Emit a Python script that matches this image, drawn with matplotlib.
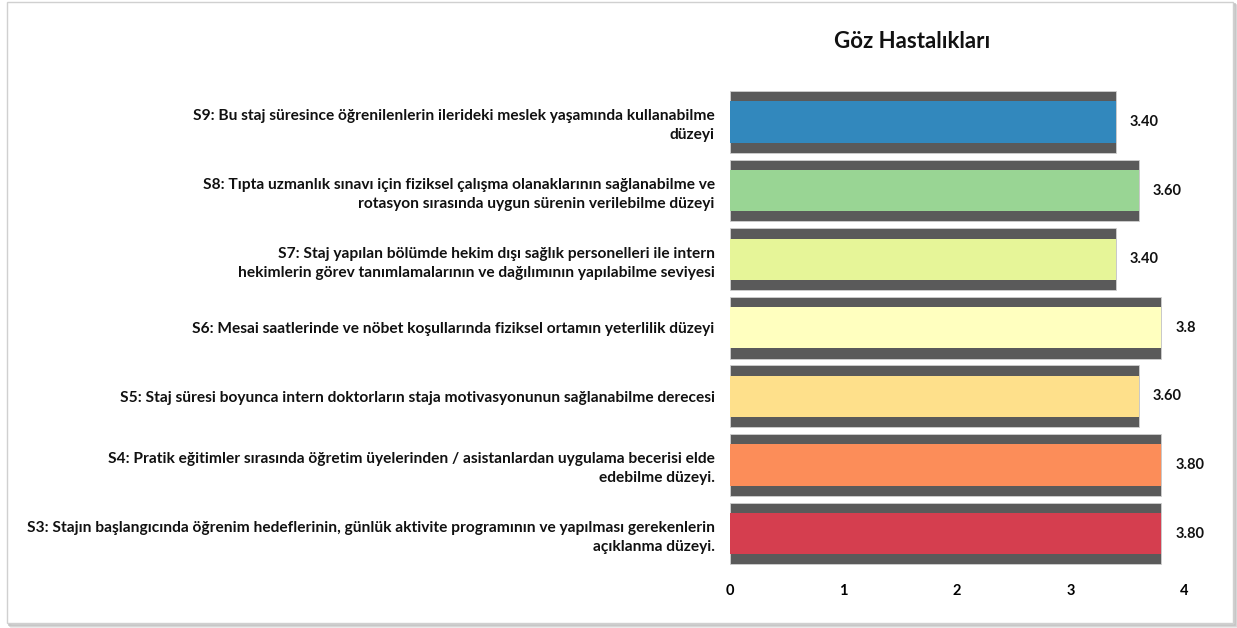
import matplotlib.pyplot as plt
import matplotlib.patches as mpatches
import numpy as np

plt.rcParams['font.family'] = ['Lato', 'DejaVu Sans']

# data, bottom to top
questions = [
    'S3: Stajın başlangıcında öğrenim hedeflerinin, günlük aktivite programının ve yapılması gerekenlerin\naçıklanma düzeyi.',
    'S4: Pratik eğitimler sırasında öğretim üyelerinden / asistanlardan uygulama becerisi elde\nedebilme düzeyi.',
    'S5: Staj süresi boyunca intern doktorların staja motivasyonunun sağlanabilme derecesi',
    'S6: Mesai saatlerinde ve nöbet koşullarında fiziksel ortamın yeterlilik düzeyi',
    'S7: Staj yapılan bölümde hekim dışı sağlık personelleri ile intern\nhekimlerin görev tanımlamalarının ve dağılımının yapılabilme seviyesi',
    'S8: Tıpta uzmanlık sınavı için fiziksel çalışma olanaklarının sağlanabilme ve\nrotasyon sırasında uygun sürenin verilebilme düzeyi',
    'S9: Bu staj süresince öğrenilenlerin ilerideki meslek yaşamında kullanabilme\ndüzeyi',
]
scores = [3.80, 3.80, 3.60, 3.80, 3.40, 3.60, 3.40]
score_labels = ['3.80', '3.80', '3.60', '3.8', '3.40', '3.60', '3.40']
bar_colors = ['#d53e4f', '#fc8d59', '#fee08b', '#ffffbf', '#e6f598', '#99d594', '#3288bd']
title = 'Göz Hastalıkları'

W, H = 1237, 628
fig = plt.figure(figsize=(W / 100, H / 100), dpi=100)
fig.patch.set_facecolor('white')

# frame with a soft shadow around the whole chart (kept behind the axes)
for off, col in [(4, '#e6e6e6'), (3, '#d4d4d4'), (2, '#c4c4c4')]:
    fig.patches.append(mpatches.Rectangle(((7 + off) / W, (H - 623 - off) / H), 1226 / W, 621 / H,
                                          transform=fig.transFigure, fill=False, edgecolor=col,
                                          linewidth=1.2, zorder=-3))
fig.patches.append(mpatches.Rectangle((7 / W, (H - 623) / H), 1226 / W, 621 / H,
                                      transform=fig.transFigure, fill=True, facecolor='white',
                                      edgecolor='#d0d0d0', linewidth=1.0, zorder=-2))

ax = fig.add_axes([730 / W, 0.0849, 454 / W, 0.7864])
ax.set_facecolor('none')
y = np.arange(len(questions))

# dark band behind each bar, coloured bar on top
ax.barh(y, scores, height=0.90, color='#5a5a5a', edgecolor='#cfcfcf', linewidth=0.6, zorder=2)
ax.barh(y, scores, height=0.60, color=bar_colors, edgecolor='none', zorder=3)

for yi, s, lab in zip(y, scores, score_labels):
    ax.annotate(lab, (s, yi), xytext=(10, 0), textcoords='offset points', va='center', ha='left',
                fontsize=10.5, fontweight='bold', color='#111111')

ax.set_xlim(0, 4)
ax.set_ylim(-0.6, 6.6)
ax.set_xticks([0, 1, 2, 3, 4])
ax.set_xticklabels(['0', '1', '2', '3', '4'], fontsize=10.5, fontweight='bold')
ax.set_yticks(y)
ax.set_yticklabels(questions, fontsize=11.2, fontweight='bold', color='#111111',
                   multialignment='right', linespacing=1.45)
ax.tick_params(axis='both', length=0)
ax.tick_params(axis='y', pad=11)
ax.tick_params(axis='x', pad=7)
for sp in ax.spines.values():
    sp.set_visible(False)

fig.text(912 / W, 1 - 42 / H, title, ha='center', va='center', fontsize=16, fontweight='bold', color='#111111')

fig.savefig('out.png', dpi=100, facecolor='white')
